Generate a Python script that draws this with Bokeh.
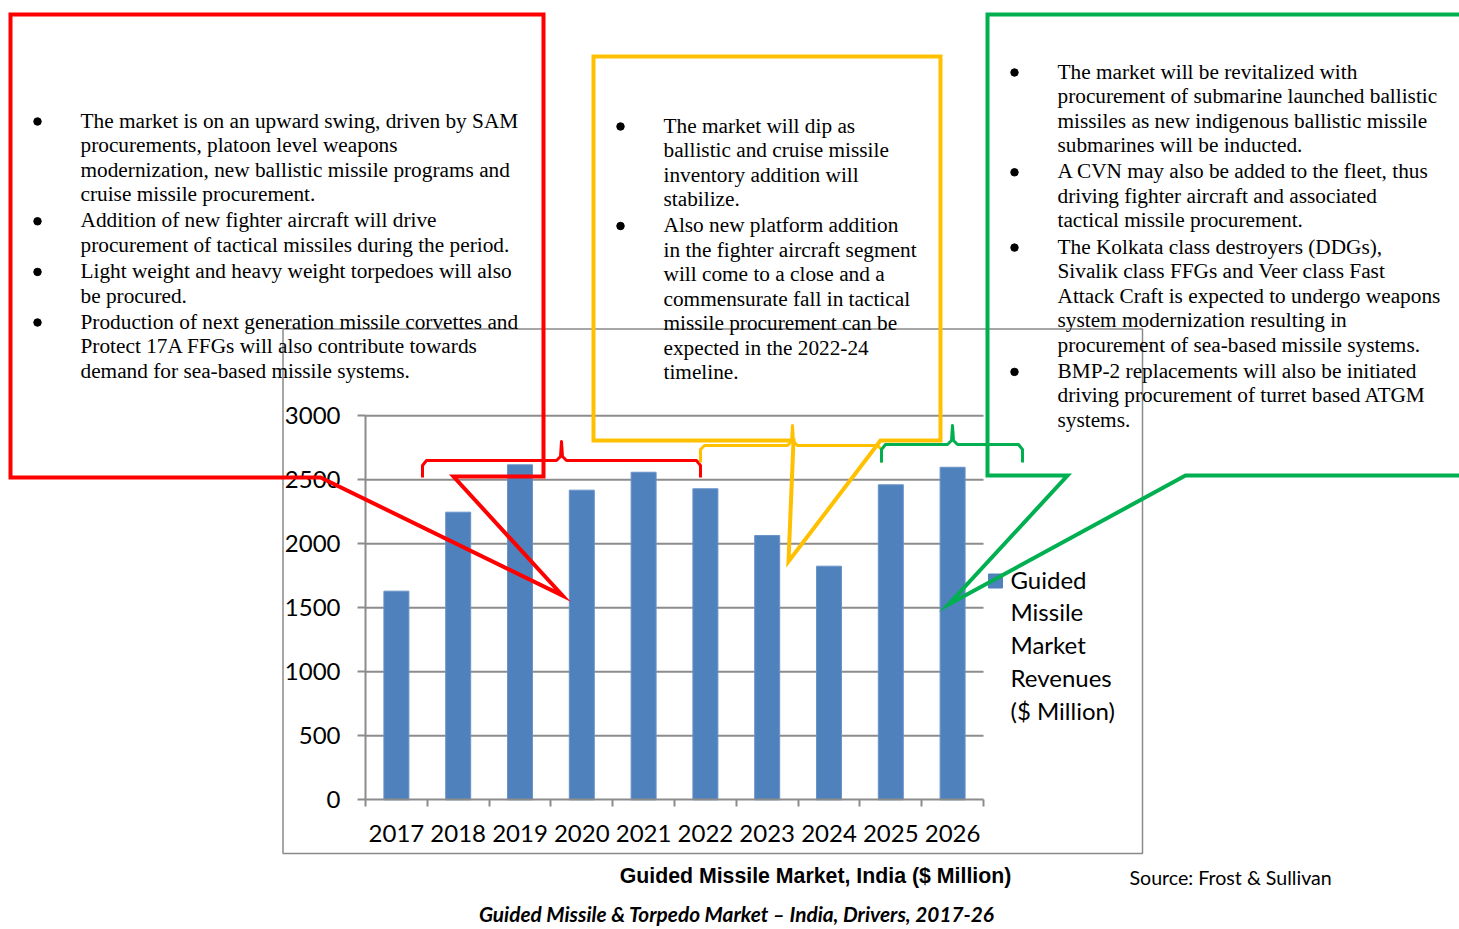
from bokeh.plotting import figure
from bokeh.models import Range1d, LinearAxis, FixedTicker
from bokeh.core.properties import value
from bokeh.embed import file_html
from bokeh.resources import INLINE

# ---------------- data ----------------
years = ["2017", "2018", "2019", "2020", "2021", "2022", "2023", "2024", "2025", "2026"]
revenues = [1630, 2247, 2617, 2419, 2559, 2430, 2065, 1825, 2461, 2598]
y_ticks = [0, 500, 1000, 1500, 2000, 2500, 3000]
series_name = "Guided Missile Market Revenues ($ Million)"
legend_lines = ["Guided", "Missile", "Market", "Revenues", "($ Million)"]
chart_title = "Guided Missile Market, India ($ Million)"
source_note = "Source: Frost & Sullivan"
caption = "Guided Missile & Torpedo Market \u2013 India, Drivers,  2017-26"

red_paragraphs = [
    ["The market is on an upward swing, driven by SAM",
     "procurements, platoon level weapons",
     "modernization, new ballistic missile programs and",
     "cruise missile procurement."],
    ["Addition of new fighter aircraft will drive",
     "procurement of tactical missiles during the period."],
    ["Light weight and heavy weight torpedoes will also",
     "be procured."],
    ["Production of next generation missile corvettes and",
     "Protect 17A FFGs will also contribute towards",
     "demand for sea-based missile systems."],
]
yellow_paragraphs = [
    ["The market will dip as",
     "ballistic and cruise missile",
     "inventory addition will",
     "stabilize."],
    ["Also new platform addition",
     "in the fighter aircraft segment",
     "will come to a close and a",
     "commensurate fall in tactical",
     "missile procurement can be",
     "expected in the 2022-24",
     "timeline."],
]
green_paragraphs = [
    ["The market will be revitalized with",
     "procurement of submarine launched ballistic",
     "missiles as new indigenous ballistic missile",
     "submarines will be inducted."],
    ["A CVN may also be added to the fleet, thus",
     "driving fighter aircraft and associated",
     "tactical missile procurement."],
    ["The Kolkata class destroyers (DDGs),",
     "Sivalik class FFGs and Veer class Fast",
     "Attack Craft is expected to undergo weapons",
     "system modernization resulting in",
     "procurement of sea-based missile systems."],
    ["BMP-2 replacements will also be initiated",
     "driving procurement of turret based ATGM",
     "systems."],
]

# ---------------- layout (page pixel coordinates) ----------------
W, H = 1459, 929
AX_X0, AX_X1 = 365.0, 983.0          # x-axis extent in page px
CAT_PX = (AX_X1 - AX_X0) / len(years)
V0_PX = 799.3                          # value 0 in page px
V_PX = 0.128                           # px per unit value

BAR = "#4F81BD"
GRID = "#8C8C8C"
RED, YEL, GRN = "#FF0000", "#FFC000", "#00B050"
SERIF = value("Liberation Serif")
CAL = value("Lato")

p = figure(width=W, height=H, title=None,
           x_range=Range1d(0, W), y_range=Range1d(H, 0),
           output_backend="svg", toolbar_location=None,
           x_axis_location=None, y_axis_location=None,
           min_border=0, outline_line_color=None,
           background_fill_color="white", border_fill_color="white")
p.xgrid.visible = False
p.ygrid.visible = False

p.extra_x_ranges = {"cx": Range1d(-AX_X0 / CAT_PX, (W - AX_X0) / CAT_PX)}
p.extra_y_ranges = {"vy": Range1d((V0_PX - H) / V_PX, V0_PX / V_PX)}

# chart area border
p.quad(left=[282.5], right=[1142], top=[328.5], bottom=[853],
       fill_color=None, line_color="#8A8A8A", line_width=1.5)

# horizontal gridlines
gy = [t for t in y_ticks if t > 0]
p.segment(x0=[0] * len(gy), x1=[len(years)] * len(gy), y0=gy, y1=gy,
          x_range_name="cx", y_range_name="vy", line_color=GRID, line_width=2)

# bars
xs = [i + 0.5 for i in range(len(years))]
p.vbar(x=xs, top=revenues, bottom=0, width=25 / CAT_PX, fill_color=BAR,
       line_color="#6A93C8", line_width=1, x_range_name="cx", y_range_name="vy")

# axes
yax = LinearAxis(y_range_name="vy", fixed_location=AX_X0, bounds=(0, 3000),
                 ticker=FixedTicker(ticks=y_ticks, minor_ticks=[]),
                 axis_line_color=GRID, axis_line_width=2,
                 major_tick_line_color=GRID, major_tick_line_width=2,
                 major_tick_out=8, major_tick_in=0, minor_tick_line_color=None,
                 major_label_standoff=17, major_label_text_font="Lato",
                 major_label_text_font_size="24px", major_label_text_color="black")
p.add_layout(yax, "left")

xax = LinearAxis(x_range_name="cx", fixed_location=V0_PX, bounds=(0, len(years)),
                 ticker=FixedTicker(ticks=xs, minor_ticks=list(range(len(years) + 1))),
                 major_label_overrides={x: y for x, y in zip(xs, years)},
                 axis_line_color=GRID, axis_line_width=2,
                 major_tick_line_color=None, major_tick_out=0, major_tick_in=0,
                 minor_tick_line_color=GRID, minor_tick_line_width=2,
                 minor_tick_out=7, minor_tick_in=0,
                 major_label_standoff=18, major_label_text_font="Lato",
                 major_label_text_font_size="24px", major_label_text_color="black")
p.add_layout(xax, "below")

# legend (manual, multi-line)
p.scatter(x=[995], y=[580.5], marker="square", size=14, fill_color=BAR, line_color=BAR)
p.text(x=[1010] * len(legend_lines), y=[578.5 + 32.75 * i for i in range(len(legend_lines))],
       text=legend_lines, text_font=CAL, text_font_size="24px",
       text_baseline="alphabetic", text_align="left", text_color="black")

# titles
p.text(x=[815], y=[875], text=[chart_title], text_font=value("Liberation Sans"),
       text_font_style="bold", text_font_size="21.3px", text_align="center",
       text_baseline="alphabetic", text_color="black")
p.text(x=[1129], y=[877], text=[source_note], text_font=CAL, text_font_size="19.6px",
       text_align="left", text_baseline="alphabetic", text_color="black")
p.text(x=[738.5], y=[913], text=[caption], text_font=CAL, text_font_style="bold italic",
       text_font_size="20.8px", text_align="center", text_baseline="alphabetic",
       text_color="black")


def bullet_block(paragraphs, bx, tx, first, step, gap):
    lx, ly, lt, bys = [], [], [], []
    y = first
    for k, para in enumerate(paragraphs):
        if k > 0:
            y += gap - step
        bys.append(y + 1)
        for line in para:
            lx.append(tx)
            ly.append(y)
            lt.append(line)
            y += step
    p.text(x=lx, y=ly, text=lt, text_font=SERIF, text_font_size="21.3px",
           text_baseline="alphabetic", text_align="left", text_color="black", level="overlay")
    p.scatter(x=[bx] * len(bys), y=bys, marker="circle", size=7.5,
              fill_color="black", line_color="black", level="overlay")


bullet_block(red_paragraphs, 37, 80, 120, 24.6, 26.0)
bullet_block(yellow_paragraphs, 620, 663, 125, 24.5, 26.0)
bullet_block(green_paragraphs, 1014, 1057, 71, 24.5, 26.3)

# callout boxes
red_box = ([10, 543, 543, 453, 562, 320, 10], [14, 14, 476, 476, 595, 477, 477])
yel_box = ([593, 940, 940, 880, 788, 793, 593], [56, 56, 440, 440, 561, 440, 440])
grn_box = ([987, 1470, 1470, 1185, 948, 1067, 987], [14, 14, 475, 475, 604, 475, 475])
for (bx, by), col in [(red_box, RED), (yel_box, YEL), (grn_box, GRN)]:
    p.patch(x=bx, y=by, fill_color=None, line_color=col, line_width=4,
            line_join="miter", level="overlay")

# braces
red_brace = ([422, 422, 426, 556, 560, 561, 562, 566, 696, 700, 700],
             [477, 465, 460, 460, 456, 441, 456, 460, 460, 465, 477])
yel_brace = ([700, 700, 704, 787, 791, 792, 793, 797, 877, 881, 881],
             [462, 449, 445, 445, 441, 425, 441, 445, 445, 449, 462])
grn_brace = ([881, 881, 885, 947, 951, 952, 953, 957, 1018, 1022, 1022],
             [462, 449, 444, 444, 440, 425, 440, 444, 444, 449, 462])
for (bx, by), col in [(red_brace, RED), (yel_brace, YEL), (grn_brace, GRN)]:
    p.line(x=bx, y=by, line_color=col, line_width=3, line_join="round", level="overlay")

open("out.html", "w").write(file_html(p, INLINE))
